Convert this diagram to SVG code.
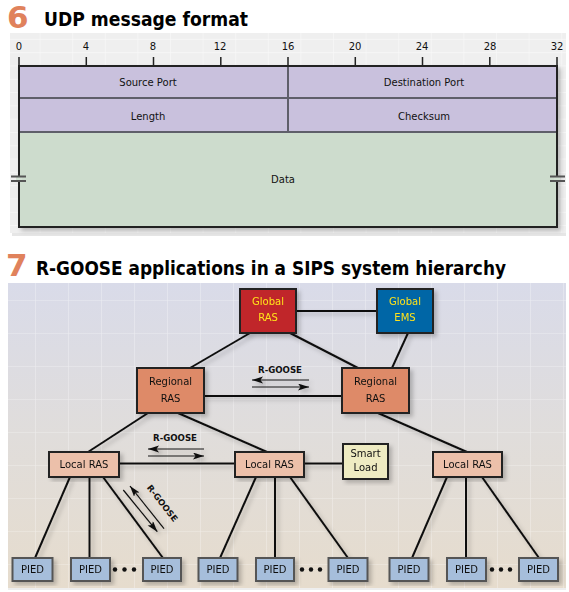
<svg xmlns="http://www.w3.org/2000/svg" width="569" height="592" viewBox="0 0 569 592">
<defs>
<style>
.t{font-family:"DejaVu Sans","Liberation Sans",sans-serif;font-size:10px;fill:#111;text-anchor:middle}
.title{font-family:"DejaVu Sans","Liberation Sans",sans-serif;font-weight:bold;font-size:19px;fill:#000}
.num{font-family:"DejaVu Sans","Liberation Sans",sans-serif;font-weight:bold;font-size:31px;fill:#e0825c}
.yl{fill:#ffe21a}
.lbl{font-family:"DejaVu Sans","Liberation Sans",sans-serif;font-weight:bold;font-size:8.5px;fill:#111;text-anchor:middle}
.ln{stroke:#111;stroke-width:2;fill:none}
.ar{stroke:#111;stroke-width:1.2;fill:none;marker-end:url(#ah)}
.box{stroke:#222;stroke-width:2}
.pied{fill:#a6bedb;stroke:#555;stroke-width:2}
.loc{fill:#ecc0aa}
.reg{fill:#de8a68}
.tick{stroke:#222;stroke-width:1.5}
.dot{fill:#111}
</style>
<marker id="ah" markerUnits="userSpaceOnUse" markerWidth="12" markerHeight="8" refX="11" refY="3.5" orient="auto">
<path d="M0,0 L11,3.5 L0,7 L2.5,3.5 z" fill="#111"/>
</marker>
<pattern id="g1" width="32.6" height="13.3" patternUnits="userSpaceOnUse" x="7" y="-1">
<path d="M0,0 H32.6 M0,0 V13.3" stroke="#ffffff" stroke-width="1.2" fill="none" opacity="0.6"/>
</pattern>
<pattern id="g2" width="33" height="33" patternUnits="userSpaceOnUse" x="2" y="3">
<path d="M0,0 H33 M0,0 V33" stroke="#ffffff" stroke-width="1.2" fill="none" opacity="0.45"/>
</pattern>
<linearGradient id="bg2" x1="0" y1="0" x2="0" y2="1">
<stop offset="0" stop-color="#d9dbe9"/>
<stop offset="0.5" stop-color="#e0dddb"/>
<stop offset="1" stop-color="#e6dccd"/>
</linearGradient>
<filter id="sh" x="-20%" y="-20%" width="140%" height="140%">
<feDropShadow dx="3" dy="3" stdDeviation="2" flood-color="#000" flood-opacity="0.22"/>
</filter>
</defs>
<rect width="569" height="592" fill="#ffffff"/>

<!-- Figure 6 -->
<text class="num" x="7" y="28">6</text>
<text class="title" x="44" y="26" textLength="204" lengthAdjust="spacingAndGlyphs">UDP message format</text>
<rect x="10" y="33" width="556" height="200" fill="#efefef"/>
<rect x="10" y="33" width="556" height="200" fill="url(#g1)"/>
<rect x="12" y="233" width="554" height="3" fill="#e6e6e6"/>

<g id="ruler">
<g class="t">
<text x="19" y="50">0</text><text x="86" y="50">4</text><text x="153" y="50">8</text><text x="220" y="50">12</text>
<text x="288" y="50">16</text><text x="355" y="50">20</text><text x="422" y="50">24</text><text x="490" y="50">28</text><text x="557" y="50">32</text>
</g>
<g class="tick">
<path d="M19,57 V66 M86.3,57 V66 M153.5,57 V66 M220.8,57 V66 M288,57 V66 M355.3,57 V66 M422.5,57 V66 M489.8,57 V66 M557,57 V66"/>
</g>
</g>

<g id="udp-fields" filter="url(#sh)">
<rect x="19" y="66" width="538" height="66" fill="#c9c1dd"/>
<rect x="19" y="132" width="538" height="95" fill="#cddccd"/>
<path d="M19,98 H557 M19,132 H557 M288,66 V132" stroke="#5f5f6a" stroke-width="2" fill="none"/>
<rect x="19" y="66" width="538" height="161" fill="none" stroke="#222" stroke-width="2"/>
</g>
<g id="udp-labels" class="t">
<text x="148" y="86">Source Port</text>
<text x="424" y="86">Destination Port</text>
<text x="148" y="120">Length</text>
<text x="424" y="120">Checksum</text>
<text x="283" y="183">Data</text>
</g>
<g id="breaks">
<rect x="16" y="177" width="6" height="3.5" fill="#d3e0d3"/>
<rect x="554" y="177" width="6" height="3.5" fill="#d3e0d3"/>
<path d="M11,176.5 H26 M11,181 H26 M550,176.5 H565 M550,181 H565" stroke="#555" stroke-width="2"/>
</g>

<!-- Figure 7 -->
<text class="num" x="6" y="276">7</text>
<text class="title" x="36" y="275" textLength="470" lengthAdjust="spacingAndGlyphs">R-GOOSE applications in a SIPS system hierarchy</text>
<rect x="8" y="283" width="558" height="305" fill="url(#bg2)"/>
<rect x="8" y="283" width="558" height="305" fill="url(#g2)"/>
<rect x="8" y="588" width="558" height="2" fill="#eeeeee"/>

<g id="connectors" filter="url(#sh)">
<g class="ln">
<path d="M296,311 H377"/>
<path d="M250,333 L190,368"/>
<path d="M290,333 L358,368"/>
<path d="M408,333 L392,368"/>
<path d="M204,396 H342"/>
<path d="M148,413 L88,452"/>
<path d="M178,413 L267,452"/>
<path d="M378,413 L467,452"/>
<path d="M119,463.5 H235"/>
<path d="M304,463.5 H343"/>
<path d="M70,477 L35,558"/>
<path d="M89.5,477 V558"/>
<path d="M103,477 L163,558"/>
<path d="M256,477 L220,558"/>
<path d="M275,477 V558"/>
<path d="M290,477 L348,558"/>
<path d="M447,477 L412,558"/>
<path d="M466,477 V558"/>
<path d="M482,477 L539,558"/>
</g>
<path class="ar" d="M309,380 H252"/>
<path class="ar" d="M252,387 H309"/>
<path class="ar" d="M204,449 H148"/>
<path class="ar" d="M148,456 H204"/>
<path class="ar" d="M164,528.7 L130,486"/>
<path class="ar" d="M123.3,490 L157.3,531.7"/>
</g>
<g id="connector-labels">
<text class="lbl" x="280" y="373" textLength="44" lengthAdjust="spacingAndGlyphs">R-GOOSE</text>
<text class="lbl" x="175" y="441" textLength="44" lengthAdjust="spacingAndGlyphs">R-GOOSE</text>
<text class="lbl" transform="translate(160,505) rotate(52)" textLength="44" lengthAdjust="spacingAndGlyphs">R-GOOSE</text>
</g>
<g id="dots" class="dot">
<circle cx="115" cy="569.5" r="2.2"/><circle cx="124.5" cy="569.5" r="2.2"/><circle cx="134" cy="569.5" r="2.2"/>
<circle cx="302" cy="569.5" r="2.2"/><circle cx="311" cy="569.5" r="2.2"/><circle cx="320" cy="569.5" r="2.2"/>
<circle cx="492" cy="569.5" r="2.2"/><circle cx="501" cy="569.5" r="2.2"/><circle cx="510" cy="569.5" r="2.2"/>
</g>

<g id="global-ras" filter="url(#sh)">
<rect class="box" x="240" y="289" width="56" height="44" fill="#c0282a"/>
<text class="t yl" x="268" y="305">Global</text><text class="t yl" x="268" y="321">RAS</text>
</g>
<g id="global-ems" filter="url(#sh)">
<rect class="box" x="377" y="289" width="56" height="44" fill="#0066a6"/>
<text class="t yl" x="405" y="305">Global</text><text class="t yl" x="405" y="321">EMS</text>
</g>
<g id="regional-ras-1" filter="url(#sh)">
<rect class="box reg" x="137" y="368" width="67" height="45"/>
<text class="t" x="170.5" y="385">Regional</text><text class="t" x="170.5" y="402">RAS</text>
</g>
<g id="regional-ras-2" filter="url(#sh)">
<rect class="box reg" x="342" y="368" width="67" height="45"/>
<text class="t" x="375.5" y="385">Regional</text><text class="t" x="375.5" y="402">RAS</text>
</g>
<g id="local-ras-1" filter="url(#sh)">
<rect class="box loc" x="49" y="452" width="70" height="25"/>
<text class="t" x="84" y="468">Local RAS</text>
</g>
<g id="local-ras-2" filter="url(#sh)">
<rect class="box loc" x="235" y="452" width="69" height="25"/>
<text class="t" x="269.5" y="468">Local RAS</text>
</g>
<g id="smart-load" filter="url(#sh)">
<rect class="box" x="343" y="444" width="45" height="35" fill="#eeebc2"/>
<text class="t" x="365.5" y="457">Smart</text><text class="t" x="365.5" y="471">Load</text>
</g>
<g id="local-ras-3" filter="url(#sh)">
<rect class="box loc" x="433" y="452" width="69" height="25"/>
<text class="t" x="467.5" y="468">Local RAS</text>
</g>

<g id="pied-1" filter="url(#sh)"><rect class="pied" x="12.5" y="558" width="40" height="23"/><text class="t" x="32.5" y="573">PIED</text></g>
<g id="pied-2" filter="url(#sh)"><rect class="pied" x="71" y="558" width="39" height="23"/><text class="t" x="90.5" y="573">PIED</text></g>
<g id="pied-3" filter="url(#sh)"><rect class="pied" x="143" y="558" width="38" height="23"/><text class="t" x="162" y="573">PIED</text></g>
<g id="pied-4" filter="url(#sh)"><rect class="pied" x="198.5" y="558" width="39" height="23"/><text class="t" x="218" y="573">PIED</text></g>
<g id="pied-5" filter="url(#sh)"><rect class="pied" x="256" y="558" width="38" height="23"/><text class="t" x="275" y="573">PIED</text></g>
<g id="pied-6" filter="url(#sh)"><rect class="pied" x="328.5" y="558" width="39" height="23"/><text class="t" x="348" y="573">PIED</text></g>
<g id="pied-7" filter="url(#sh)"><rect class="pied" x="389.5" y="558" width="39" height="23"/><text class="t" x="409" y="573">PIED</text></g>
<g id="pied-8" filter="url(#sh)"><rect class="pied" x="447" y="558" width="39" height="23"/><text class="t" x="466.5" y="573">PIED</text></g>
<g id="pied-9" filter="url(#sh)"><rect class="pied" x="519" y="558" width="39" height="23"/><text class="t" x="538.5" y="573">PIED</text></g>
</svg>
